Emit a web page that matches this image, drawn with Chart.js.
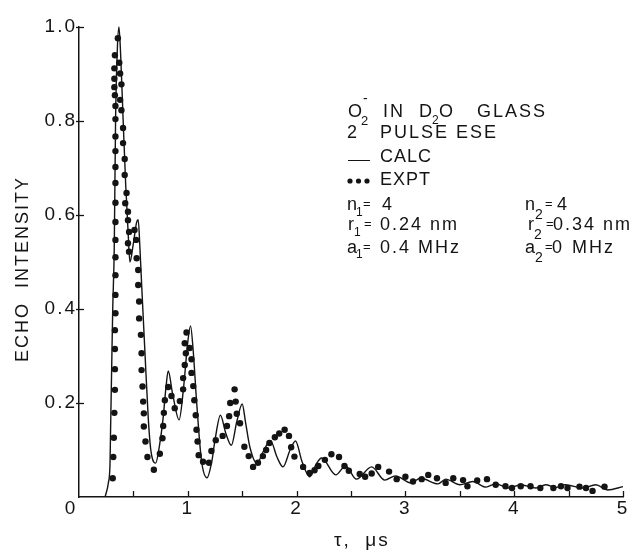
<!DOCTYPE html>
<html><head><meta charset="utf-8">
<script src="https://cdn.jsdelivr.net/npm/chart.js@4.4.1/dist/chart.umd.min.js"></script>
<style>html,body{margin:0;padding:0;background:#fff}#wrap{width:636px;height:550px;position:relative}</style>
</head><body><div id="wrap"><canvas id="c" width="636" height="550"></canvas></div>
<script>
// ---- data ----
const xTickValues = [0, 1, 2, 3, 4, 5];
const yTickValues = [0, 0.2, 0.4, 0.6, 0.8, 1.0];
const xMinorTicks = [0.5, 1.5, 2.5, 3.5, 4.5];

// calculated curve (tau in microseconds, echo intensity)
const calcTau = [0.24,0.27,0.285,0.29,0.30,0.31,0.324,0.336,0.352,0.367,0.383,0.406,0.43,0.45,0.468,0.50,0.53,0.544,0.56,0.575,0.605,0.636,0.66,0.704,0.74,0.774,0.80,0.82,0.86,0.92,0.96,1.0,1.025,1.05,1.08,1.125,1.177,1.22,1.25,1.30,1.35,1.40,1.45,1.50,1.53,1.57,1.635,1.70,1.76,1.82,1.875,1.94,1.99,2.05,2.12,2.18,2.23,2.36,2.45,2.55,2.69,2.81,2.91,3.05,3.14,3.30,3.37,3.50,3.62,3.74,3.83,3.95,4.06,4.20,4.29,4.38,4.47,4.63,4.75,4.86,5.0];
const calcEcho = [0,0.03,0.07,0.14,0.27,0.40,0.53,0.80,0.95,1.0,0.94,0.80,0.66,0.57,0.50,0.54,0.585,0.59,0.53,0.455,0.313,0.17,0.10,0.072,0.11,0.17,0.235,0.268,0.22,0.164,0.23,0.33,0.364,0.31,0.206,0.079,0.041,0.075,0.121,0.174,0.135,0.11,0.16,0.198,0.16,0.107,0.072,0.10,0.12,0.085,0.064,0.10,0.119,0.075,0.043,0.07,0.083,0.047,0.066,0.038,0.064,0.036,0.045,0.03,0.04,0.028,0.038,0.026,0.033,0.021,0.028,0.019,0.026,0.019,0.026,0.02,0.026,0.019,0.026,0.015,0.022];

// experimental points
const exptTau = [0.31,0.315,0.32,0.325,0.33,0.33,0.33,0.33,0.335,0.335,0.335,0.335,0.335,0.335,0.335,0.335,0.335,0.335,0.335,0.335,0.335,0.33,0.325,0.325,0.325,0.33,0.357,
0.37,0.378,0.39,0.378,0.39,0.405,0.405,0.42,0.42,0.437,0.425,0.45,0.45,0.46,0.45,0.46,0.51,0.525,0.53,0.544,0.544,0.553,0.553,0.569,0.575,0.575,0.584,0.59,0.596,0.596,0.611,0.629,0.688,
0.743,0.767,0.774,0.78,0.789,0.82,0.85,0.88,0.927,0.957,0.957,0.972,0.982,0.972,0.988,1.018,1.034,1.034,1.05,1.06,1.073,1.08,1.09,1.10,1.14,1.195,1.217,1.257,1.32,1.36,1.38,1.39,1.43,1.44,1.45,1.48,1.52,1.56,1.60,1.645,1.69,1.72,1.75,1.80,1.84,1.89,1.93,1.95,1.98,2.06,2.12,2.165,2.20,2.26,2.32,2.39,2.44,2.48,2.58,2.63,2.69,2.75,2.85,2.92,3.0,3.07,3.15,3.21,3.29,3.37,3.44,3.53,3.57,3.66,3.75,3.83,3.92,3.98,4.06,4.15,4.24,4.36,4.43,4.49,4.6,4.66,4.72,4.83];
const exptEcho = [0.04,0.085,0.126,0.179,0.228,0.272,0.315,0.355,0.391,0.43,0.472,0.51,0.547,0.585,0.626,0.668,0.702,0.736,0.767,0.804,0.832,0.855,0.872,0.89,0.912,0.94,0.976,
0.924,0.901,0.878,0.845,0.823,0.785,0.753,0.719,0.685,0.647,0.625,0.607,0.589,0.564,0.54,0.522,0.568,0.547,0.508,0.483,0.451,0.416,0.38,0.345,0.306,0.27,0.235,0.203,0.178,0.15,0.118,0.085,0.058,
0.092,0.125,0.151,0.179,0.206,0.234,0.215,0.189,0.204,0.229,0.253,0.281,0.306,0.327,0.35,0.317,0.293,0.264,0.236,0.206,0.174,0.143,0.118,0.089,0.075,0.073,0.098,0.121,0.13,0.151,0.172,0.20,0.229,0.203,0.177,0.157,0.107,0.087,0.064,0.073,0.087,0.10,0.115,0.127,0.135,0.143,0.13,0.106,0.086,0.064,0.051,0.057,0.066,0.079,0.091,0.085,0.066,0.056,0.049,0.043,0.05,0.064,0.054,0.038,0.043,0.033,0.038,0.047,0.04,0.03,0.04,0.036,0.023,0.035,0.038,0.026,0.023,0.019,0.023,0.023,0.019,0.019,0.023,0.019,0.022,0.019,0.013,0.022];

const calcPts = calcTau.map((t, i) => ({x: t, y: calcEcho[i]}));
const exptPts = exptTau.map((t, i) => ({x: t, y: exptEcho[i]}));

const FONT = '"Liberation Sans", Arial, sans-serif';
const INK = '#141414';

const decor = {
  id: 'decor',
  beforeDraw(chart) { chart.ctx.letterSpacing = '2px'; },
  afterDraw(chart) {
    const ctx = chart.ctx, xs = chart.scales.x, ys = chart.scales.y, a = chart.chartArea;
    ctx.save();
    ctx.strokeStyle = INK; ctx.fillStyle = INK; ctx.lineWidth = 1.3;
    // inward ticks on x axis
    [...xTickValues.filter(v => v > 0), ...xMinorTicks].forEach(v => {
      const px = Math.round(xs.getPixelForValue(v)) + 0.5;
      ctx.beginPath(); ctx.moveTo(px, a.bottom); ctx.lineTo(px, a.bottom - 6); ctx.stroke();
    });
    // small ticks on y axis
    yTickValues.filter(v => v > 0).forEach(v => {
      const py = Math.round(ys.getPixelForValue(v)) + 0.5;
      ctx.beginPath(); ctx.moveTo(a.left - 3, py); ctx.lineTo(a.left + 5, py); ctx.stroke();
    });
    // shared origin label
    ctx.font = '19px ' + FONT; ctx.textAlign = 'center'; ctx.textBaseline = 'middle';
    ctx.fillText('0', xs.getPixelForValue(0) - 8, a.bottom + 12);

    // annotation block
    ctx.textAlign = 'left'; ctx.textBaseline = 'alphabetic';
    const T = (s, x, y, size, sp) => { ctx.font = (size || 18) + 'px ' + FONT; ctx.letterSpacing = (sp === undefined ? 2 : sp) + 'px'; ctx.fillText(s, x, y); };
    T('O', 348, 117); T('2', 361, 125, 13, 0); T('-', 363, 103, 14, 0);
    T('IN', 383, 117); T('D', 419, 117); T('2', 432, 124, 12, 0); T('O', 439, 117); T('GLASS', 477, 117);
    T('2', 347, 138); T('PULSE ESE', 380, 138);
    ctx.lineWidth = 1; ctx.beginPath(); ctx.moveTo(348, 160.5); ctx.lineTo(370, 160.5); ctx.stroke();
    T('CALC', 380, 162, 18, 1);
    [350, 358.5, 367].forEach(x => { ctx.beginPath(); ctx.arc(x, 181, 2.6, 0, Math.PI * 2); ctx.fill(); });
    T('EXPT', 380, 185, 18, 1);
    T('n', 347, 210); T('1', 356, 216, 12, 0); T('=', 363, 208, 13, 0); T('4', 382, 210);
    T('n', 525, 210); T('2', 535, 219, 14, 0); T('=', 545, 208, 13, 0); T('4', 557, 210);
    T('r', 348, 230); T('1', 354, 236, 12, 0); T('=', 364, 228, 13, 0); T('0.24 nm', 380, 230);
    T('r', 528, 230); T('2', 534, 239, 14, 0); T('=', 546, 228, 13, 0); T('0.34 nm', 553, 230);
    T('a', 347, 253); T('1', 356, 258, 12, 0); T('=', 363, 251, 13, 0); T('0.4 MHz', 380, 253);
    T('a', 525, 253); T('2', 535, 262, 14, 0); T('=', 545, 251, 13, 0); T('0', 552, 253); T('MHz', 572, 253);
    ctx.restore();
  }
};

new Chart(document.getElementById('c'), {
  type: 'scatter',
  data: {
    datasets: [
      { label: 'CALC', data: calcPts, showLine: true, pointRadius: 0, borderColor: INK, borderWidth: 1.4,
        cubicInterpolationMode: 'monotone', clip: false },
      { label: 'EXPT', data: exptPts, showLine: false, pointRadius: 3.2, pointBackgroundColor: INK,
        pointBorderWidth: 0, clip: false }
    ]
  },
  options: {
    responsive: false, animation: false, events: [],
    layout: { padding: { left: 8, right: 13, top: 27, bottom: 0 } },
    plugins: { legend: { display: false }, tooltip: { enabled: false } },
    scales: {
      x: {
        type: 'linear', min: 0, max: 5,
        afterFit: s => { s.height = 53; },
        afterBuildTicks: s => { s.ticks = xTickValues.map(v => ({ value: v })); },
        grid: { display: false, drawTicks: false, tickLength: 0 },
        border: { display: true, color: INK, width: 1.5 },
        ticks: { padding: 0, color: INK, font: { family: FONT, size: 19 }, maxRotation: 0,
                 callback: v => v === 0 ? '' : String(v) },
        title: { display: true, text: '   τ,  μs', color: INK, font: { family: FONT, size: 19, lineHeight: 1 },
                 padding: { top: 0, bottom: 0 } }
      },
      y: {
        type: 'linear', min: 0, max: 1.0,
        afterFit: s => { s.width = 71; },
        afterBuildTicks: s => { s.ticks = yTickValues.map(v => ({ value: v })); },
        grid: { display: false, drawTicks: false, tickLength: 0 },
        border: { display: true, color: INK, width: 1.5 },
        ticks: { padding: 2, color: INK, font: { family: FONT, size: 19 },
                 callback: v => v === 0 ? '' : v.toFixed(1) },
        title: { display: true, text: 'ECHO  INTENSITY  ', color: INK, font: { family: FONT, size: 18, lineHeight: 1 },
                 padding: { top: 6, bottom: 0 } }
      }
    }
  },
  plugins: [decor]
});
</script>
</body></html>
